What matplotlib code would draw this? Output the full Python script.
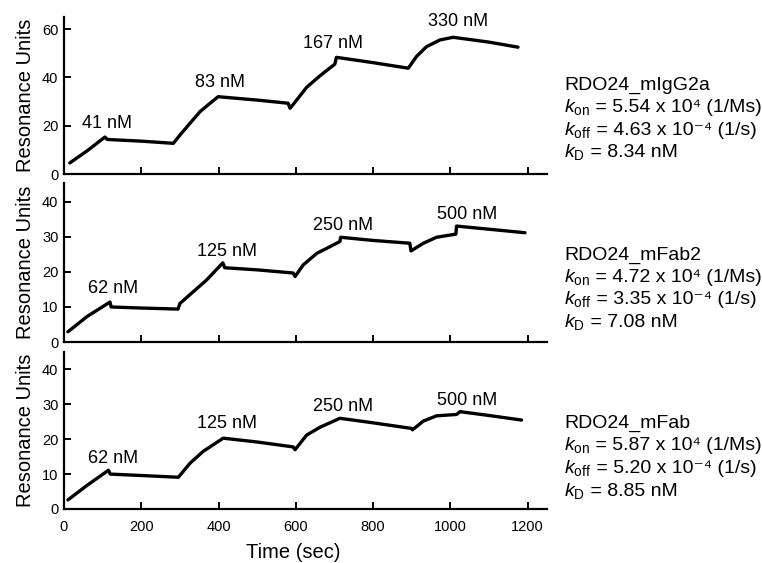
import matplotlib
matplotlib.use("Agg")
import matplotlib.pyplot as plt

plt.rcParams['font.family'] = ['Liberation Sans', 'DejaVu Sans']
plt.rcParams['mathtext.fontset'] = 'custom'
plt.rcParams['mathtext.rm'] = 'Liberation Sans'
plt.rcParams['mathtext.it'] = 'Liberation Sans:italic'
plt.rcParams['mathtext.bf'] = 'Liberation Sans:bold'

# ---- data ----
t_igg = [15, 60, 106, 112, 200, 283, 300, 326, 352, 378, 399, 500, 580, 585,
         602, 628, 662, 701, 705, 800, 891, 912, 938, 973, 1007, 1100, 1175]
ru_igg = [4.6, 9.6, 15.3, 14.3, 13.6, 12.7, 16.1, 21.0, 25.8, 29.3, 32.0, 30.6, 29.3, 27.2,
          30.6, 35.9, 40.6, 45.5, 48.3, 46.1, 43.8, 48.6, 52.7, 55.5, 56.6, 54.6, 52.5]

t_fab2 = [10, 60, 119, 122, 200, 295, 300, 335, 369, 411, 416, 500, 593, 598,
          619, 654, 688, 714, 716, 800, 895, 898, 930, 964, 1014, 1016, 1100, 1193]
ru_fab2 = [2.9, 7.3, 11.4, 10.0, 9.7, 9.4, 11.0, 14.4, 17.7, 22.6, 21.2, 20.6, 19.7, 18.7,
           22.0, 25.3, 27.2, 28.7, 29.9, 29.0, 28.2, 26.0, 28.2, 29.9, 30.8, 33.1, 32.2, 31.2]

t_fab = [10, 60, 115, 120, 200, 296, 326, 360, 412, 500, 593, 598,
         628, 662, 714, 800, 899, 902, 930, 964, 1016, 1025, 1100, 1184]
ru_fab = [2.6, 6.8, 11.1, 10.0, 9.6, 9.1, 13.1, 16.5, 20.3, 19.2, 17.8, 17.0,
          21.2, 23.4, 26.0, 24.7, 23.1, 22.7, 25.2, 26.7, 27.1, 27.9, 26.8, 25.5]

conc_igg = ["41 nM", "83 nM", "167 nM", "330 nM"]
conc_fab = ["62 nM", "125 nM", "250 nM", "500 nM"]
lab_x_igg = [112, 404, 697, 1019]
lab_y_igg = [21.1, 37.7, 54.2, 63.0]
lab_x_fab2 = [128, 421, 723, 1042]
lab_y_fab2 = [15.3, 25.8, 33.4, 36.3]
lab_x_fab = [128, 421, 723, 1042]
lab_y_fab = [14.6, 24.6, 29.3, 31.2]

names = ["RDO24_mIgG2a", "RDO24_mFab2", "RDO24_mFab"]
kon = ["5.54", "4.72", "5.87"]
koff = ["4.63", "3.35", "5.20"]
kd = ["8.34", "7.08", "8.85"]

xticks = [0, 200, 400, 600, 800, 1000, 1200]
yticks_igg = [0, 20, 40, 60]
yticks_fab = [0, 10, 20, 30, 40]

# ---- figure ----
W, H = 762, 563
fig = plt.figure(figsize=(W / 100, H / 100), dpi=100)

def axrect(top_px, zero_px):
    left = 64 / W
    width = 483 / W
    bottom = 1 - zero_px / H
    height = (zero_px - top_px) / H
    return [left, bottom, width, height]

panels = [
    (axrect(17, 174), t_igg, ru_igg, 65, yticks_igg, conc_igg, lab_x_igg, lab_y_igg),
    (axrect(183, 342), t_fab2, ru_fab2, 45.4, yticks_fab, conc_fab, lab_x_fab2, lab_y_fab2),
    (axrect(352, 509), t_fab, ru_fab, 45, yticks_fab, conc_fab, lab_x_fab, lab_y_fab),
]

# text baselines (pixels from top)
baselines = [[90, 112, 135, 157], [260, 282, 304, 327], [428, 450, 473, 496]]
FS = 14
TX = 564 / W


def kline(ybase_px, sym, rest):
    y = 1 - ybase_px / H
    kt = fig.text(TX, y, sym, fontsize=FS, va='baseline', ha='left')
    fig.text(0, 0, "")  # placeholder keeps ordering simple
    ann = plt.annotate(rest, xy=(1, y), xycoords=(kt, 'figure fraction'),
                       fontsize=FS, va='baseline', ha='left', annotation_clip=False)
    return kt, ann


for i, (rect, t, ru, ymax, yt, conc, lx, ly) in enumerate(panels):
    ax = fig.add_axes(rect)
    ax.plot(t, ru, color='black', lw=2.4, solid_joinstyle='round', solid_capstyle='round')
    ax.set_xlim(0, 1250)
    ax.set_ylim(0, ymax)
    ax.set_xticks(xticks)
    ax.set_yticks(yt)
    for s in ['top', 'right']:
        ax.spines[s].set_visible(False)
    for s in ['left', 'bottom']:
        ax.spines[s].set_linewidth(1.6)
    ax.tick_params(direction='in', length=5, width=1.4, labelsize=10.5, pad=4)
    ax.tick_params(axis='x', pad=8)
    if i < 2:
        ax.tick_params(axis='x', labelbottom=False)
    ax.set_ylabel("Resonance Units", fontsize=14.5, labelpad=5)
    for c, x, y in zip(conc, lx, ly):
        ax.text(x, y, c, ha='center', va='center', fontsize=13)

    b = baselines[i]
    fig.text(TX, 1 - b[0] / H, names[i], fontsize=FS, va='baseline', ha='left')
    for yb, sym, rest in [
        (b[1], r"$k_{\rm on}$", f" = {kon[i]} x 10\u2074 (1/Ms)"),
        (b[2], r"$k_{\rm off}$", f" = {koff[i]} x 10\u207b\u2074 (1/s)"),
        (b[3], r"$k_{\rm D}$", f" = {kd[i]} nM"),
    ]:
        yf = 1 - yb / H
        kt = fig.text(TX, yf, sym, fontsize=FS, va='baseline', ha='left')
        fig.add_artist(matplotlib.text.Annotation(
            rest, xy=(1, yf), xycoords=(kt, 'figure fraction'),
            fontsize=FS, va='baseline', ha='left', annotation_clip=False))

fig.text(293 / W, 1 - 552 / H, "Time (sec)", fontsize=14.5, ha='center', va='center')

fig.savefig("out.png", dpi=100)
